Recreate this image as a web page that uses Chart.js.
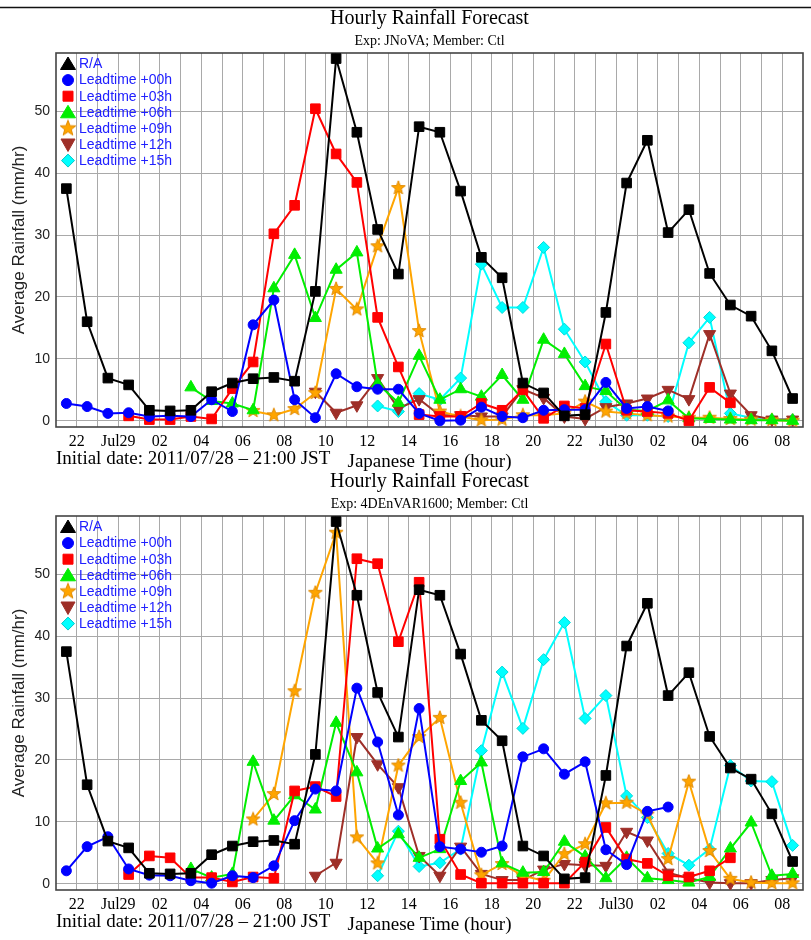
<!DOCTYPE html>
<html>
<head>
<meta charset="utf-8">
<script src="https://cdn.jsdelivr.net/npm/chart.js@4/dist/chart.umd.min.js"></script>
<style>
  html, body { margin: 0; padding: 0; background: #fff; }
  body { width: 811px; height: 940px; position: relative; overflow: hidden; }
  canvas { position: absolute; left: 0; }
  #panelA { top: 0; }
  #panelB { top: 463px; }
</style>
</head>
<body>
<canvas id="panelA" width="811" height="477"></canvas>
<canvas id="panelB" width="811" height="477"></canvas>
<script>
// Hourly accumulated rainfall, one value per hour starting 21-22 JST on 2011/07/28.
// Each value sits at the middle of its hour; null = no forecast for that hour.
const _ = null;

// Even-hour tick labels (at 22:00, 00:00, 02:00 ... 08:00 of Jul 30)
const tickLabels = ['22', 'Jul29', '02', '04', '06', '08', '10', '12', '14', '16', '18', '20',
                    '22', 'Jul30', '02', '04', '06', '08'];

// Radar/raingauge analysis (same in both experiments)
const analysis = [37.5, 16.0, 6.9, 5.8, 1.7, 1.6, 1.7, 4.7, 6.1, 6.8, 7.0, 6.4,
                  20.9, 58.5, 46.6, 30.9, 23.7, 47.5, 46.6, 37.1, 26.4, 23.1, 6.1, 4.5,
                  0.8, 1.0, 17.5, 38.4, 45.3, 30.4, 34.1, 23.8, 18.7, 16.9, 11.3, 3.6];

// JNoVA forecasts by lead time
const jnova00 = [2.8, 2.3, 1.2, 1.3, 0.7, 0.8, 0.7, 3.4, 1.5, 15.5, 19.5, 3.4,
                 0.5, 7.6, 5.5, 5.1, 5.1, 1.2, 0.0, 0.1, 2.2, 0.7, 0.5, 1.7,
                 1.8, 1.8, 6.2, 2.0, 2.3, 1.6, _, _, _, _, _, _];
const jnova03 = [_, _, _, 0.8, 0.2, 0.2, 0.7, 0.3, 5.2, 9.5, 30.2, 34.8,
                 50.4, 43.1, 38.5, 16.7, 8.7, 1.0, 0.7, 0.7, 2.8, 1.7, 5.0, 0.4,
                 2.4, 2.0, 12.4, 1.7, 1.5, 1.2, 0.0, 5.4, 2.9, _, _, _];
const jnova06 = [_, _, _, _, _, _, 5.4, 3.2, 2.8, 1.7, 21.4, 26.8,
                 16.6, 24.4, 27.2, 6.0, 2.9, 10.5, 3.4, 5.1, 3.9, 7.4, 3.4, 13.1,
                 10.8, 5.6, 4.8, 1.8, 1.6, 3.3, 0.4, 0.3, 0.2, 0.1, 0.1, 0.0];
const jnova09 = [_, _, _, _, _, _, _, _, _, 1.6, 0.9, 1.9,
                 4.5, 21.3, 18.0, 28.2, 37.6, 14.5, 1.5, 0.7, 0.1, 0.2, 0.9, 0.9,
                 1.2, 3.1, 1.5, 1.2, 0.9, 0.7, 0.5, 0.5, 0.3, 0.2, 0.1, 0.0];
const jnova12 = [_, _, _, _, _, _, _, _, _, _, _, _,
                 4.7, 1.3, 2.5, 6.9, 2.0, 3.5, 0.9, 0.9, 0.7, 0.7, 5.1, 3.7,
                 0.7, 0.3, 2.2, 2.8, 3.6, 5.0, 3.5, 14.0, 4.4, 0.9, 0.2, 0.2];
const jnova15 = [_, _, _, _, _, _, _, _, _, _, _, _,
                 _, _, _, 2.4, 1.5, 4.4, 3.4, 6.9, 25.3, 18.3, 18.3, 28.0,
                 14.8, 9.5, 3.1, 0.9, 0.9, 0.7, 12.6, 16.7, 1.2, 0.5, 0.2, 0.2];

// 4DEnVAR1600 forecasts by lead time
const envar00 = [2.1, 6.0, 7.6, 2.4, 1.4, 1.3, 0.5, 0.1, 1.3, 1.0, 2.9, 10.2,
                 15.3, 15.0, 31.6, 22.9, 11.1, 28.3, 6.0, 5.6, 5.1, 6.1, 20.5, 21.8,
                 17.7, 19.7, 5.5, 3.1, 11.7, 12.4, _, _, _, _, _, _];
const envar03 = [_, _, _, 1.5, 4.5, 4.2, 1.0, 1.0, 0.3, 1.1, 0.9, 15.0,
                 15.7, 14.1, 52.5, 51.7, 39.1, 48.7, 7.2, 1.5, 0.1, 0.1, 0.1, 0.1,
                 0.1, 3.5, 9.1, 4.0, 3.3, 1.3, 1.1, 2.1, 4.2, _, _, _];
const envar06 = [_, _, _, _, _, _, 2.4, 1.0, 1.6, 19.7, 10.2, 14.3,
                 12.0, 26.0, 18.0, 5.7, 8.0, 4.2, 5.6, 16.6, 19.6, 3.3, 1.8, 1.9,
                 6.8, 4.4, 0.9, 4.2, 0.9, 0.6, 0.2, 1.1, 5.7, 9.9, 1.3, 1.6];
const envar09 = [_, _, _, _, _, _, _, _, _, 10.4, 14.5, 31.1,
                 47.0, 56.7, 7.5, 3.3, 19.1, 23.7, 26.8, 13.1, 1.4, 3.2, 1.3, 0.5,
                 4.8, 6.4, 13.0, 13.1, 11.2, 4.0, 16.5, 5.3, 0.8, 0.2, 0.1, 0.1];
const envar12 = [_, _, _, _, _, _, _, _, _, _, _, _,
                 1.3, 3.4, 23.7, 19.3, 15.6, 4.5, 1.3, 6.0, 1.6, 0.6, 0.6, 2.3,
                 3.2, 3.0, 2.9, 8.4, 7.0, 1.8, 0.9, 0.2, 0.1, 0.1, 0.6, 0.9];
const envar15 = [_, _, _, _, _, _, _, _, _, _, _, _,
                 _, _, _, 1.3, 8.5, 2.8, 3.4, 5.6, 21.5, 34.2, 25.1, 36.2,
                 42.2, 26.7, 30.4, 14.2, 10.7, 4.9, 3.0, 5.6, 19.1, 16.6, 16.5, 6.2];

// ---------- drawing helpers ----------
const SERIF = '"Liberation Serif", "Times New Roman", serif';
const SANS = '"Liberation Sans", Arial, sans-serif';

function starImage(size, fill, stroke) {
  const c = document.createElement('canvas');
  c.width = c.height = size;
  const g = c.getContext('2d');
  const cx = size / 2, cy = size / 2, R = size / 2 - 0.8, r = R * 0.42;
  g.beginPath();
  for (let k = 0; k < 10; k++) {
    const a = -Math.PI / 2 + k * Math.PI / 5;
    const rr = k % 2 ? r : R;
    g.lineTo(cx + rr * Math.cos(a), cy + rr * Math.sin(a));
  }
  g.closePath();
  g.fillStyle = fill; g.fill();
  g.strokeStyle = stroke; g.lineWidth = 1; g.stroke();
  return c;
}
const starPlot = starImage(16, '#ffa500', '#e08a00');
const starLegend = starImage(18, '#ffa500', '#e08a00');

// hour index -> x value (hours after 21:00 JST), placed mid-hour
function toPoints(values) {
  const pts = [];
  values.forEach((v, i) => { if (v !== null) pts.push({ x: i + 0.5, y: v }); });
  return pts;
}

const styles = [
  { label: 'R/A',            color: '#000000', border: '#000000', style: 'rect',     radius: 6.8, rot: 0,   legend: 'triangle' },
  { label: 'Leadtime +00h',  color: '#0000ff', border: '#0000ff', style: 'circle',   radius: 5,   rot: 0,   legend: 'circle' },
  { label: 'Leadtime +03h',  color: '#ff0000', border: '#ff0000', style: 'rect',     radius: 6.8, rot: 0,   legend: 'rect' },
  { label: 'Leadtime +06h',  color: '#00ee00', border: '#00ee00', style: 'triangle', radius: 7,   rot: 0,   legend: 'triangle' },
  { label: 'Leadtime +09h',  color: '#ffa500', border: '#ffa500', style: starPlot,   radius: 7,   rot: 0,   legend: 'star' },
  { label: 'Leadtime +12h',  color: '#9e2f28', border: '#9e2f28', style: 'triangle', radius: 7,   rot: 180, legend: 'down' },
  { label: 'Leadtime +15h',  color: '#00ffff', border: '#00d8d8', style: 'rectRot',  radius: 6,   rot: 0,   legend: 'diamond' }
];

function buildDatasets(seriesList) {
  return seriesList.map((vals, k) => {
    const s = styles[k];
    return {
      label: s.label,
      data: toPoints(vals),
      borderColor: s.color,
      backgroundColor: s.color,
      borderWidth: 2,
      pointStyle: s.style,
      pointRadius: s.radius,
      pointRotation: s.rot,
      pointBackgroundColor: s.color,
      pointBorderColor: s.border,
      pointBorderWidth: 1,
      tension: 0,
      fill: false
    };
  });
}

function drawLegendMarker(ctx, kind, color, x, y) {
  ctx.save();
  ctx.fillStyle = color;
  ctx.strokeStyle = color;
  ctx.lineWidth = 1;
  ctx.beginPath();
  if (kind === 'triangle') {
    ctx.moveTo(x, y - 7); ctx.lineTo(x + 7.5, y + 5.5); ctx.lineTo(x - 7.5, y + 5.5);
  } else if (kind === 'down') {
    ctx.moveTo(x, y + 7); ctx.lineTo(x + 7, y - 5.5); ctx.lineTo(x - 7, y - 5.5);
  } else if (kind === 'circle') {
    ctx.arc(x, y, 5.5, 0, Math.PI * 2);
  } else if (kind === 'rect') {
    ctx.rect(x - 5, y - 5, 10, 10);
  } else if (kind === 'diamond') {
    ctx.strokeStyle = '#00c8c8';
    ctx.moveTo(x, y - 6.5); ctx.lineTo(x + 6.5, y); ctx.lineTo(x, y + 6.5); ctx.lineTo(x - 6.5, y);
  }
  if (kind === 'star') {
    ctx.drawImage(starLegend, x - 9, y - 9);
  } else {
    ctx.closePath();
    ctx.fill();
    ctx.stroke();
  }
  ctx.restore();
}

const panelDecor = {
  id: 'panelDecor',
  beforeDatasetsDraw(chart, args, opts) {
    const { ctx, chartArea: a } = chart;
    ctx.save();
    ctx.strokeStyle = '#444';
    ctx.lineWidth = 1.6;
    ctx.strokeRect(a.left, a.top, a.right - a.left, a.bottom - a.top);
    ctx.restore();
  },
  afterDraw(chart, args, opts) {
    const { ctx, chartArea: a } = chart;
    const cx = (a.left + a.right) / 2;
    ctx.save();
    if (opts.topRule) {
      ctx.strokeStyle = '#111';
      ctx.lineWidth = 1.5;
      ctx.beginPath(); ctx.moveTo(0, 7.5); ctx.lineTo(811, 7.5); ctx.stroke();
    }
    ctx.fillStyle = '#000';
    ctx.textAlign = 'center';
    ctx.textBaseline = 'alphabetic';
    ctx.font = '20px ' + SERIF;
    ctx.fillText('Hourly Rainfall Forecast', cx, 24);
    ctx.font = '14px ' + SERIF;
    ctx.fillText(opts.subtitle, cx, 45);
    ctx.font = '19px ' + SERIF;
    ctx.textAlign = 'left';
    ctx.fillText('Initial date: 2011/07/28 \u2013 21:00 JST', a.left, a.bottom + 37);
    ctx.textAlign = 'center';
    ctx.fillText('Japanese Time (hour)', cx, a.bottom + 40);

    // legend in the upper-left corner of the plot
    ctx.font = '14px ' + SANS;
    ctx.textAlign = 'left';
    ctx.textBaseline = 'middle';
    styles.forEach((s, i) => {
      const y = a.top + 11 + i * 16.1;
      drawLegendMarker(ctx, s.legend, s.color, a.left + 12, y);
      ctx.fillStyle = '#2020ff';
      ctx.fillText(s.label, a.left + 23, y + 0.5);
    });
    ctx.restore();
  }
};

function makeChart(id, seriesList, subtitle, topRule) {
  return new Chart(document.getElementById(id), {
    type: 'line',
    data: { datasets: buildDatasets(seriesList) },
    plugins: [panelDecor],
    options: {
      responsive: false,
      animation: false,
      devicePixelRatio: 1,
      layout: { padding: { top: 53, right: 5, left: 0, bottom: 0 } },
      plugins: {
        legend: { display: false },
        tooltip: { enabled: false },
        title: { display: false },
        panelDecor: { subtitle: subtitle, topRule: topRule }
      },
      scales: {
        x: {
          type: 'linear',
          min: 0,
          max: 36,
          afterBuildTicks: (scale) => {
            const t = [];
            for (let h = 1; h <= 35; h++) t.push({ value: h });
            scale.ticks = t;
          },
          afterFit: (scale) => { scale.height = 50; },
          grid: { color: '#a9a9a9', lineWidth: 1, drawTicks: false },
          border: { display: false },
          ticks: {
            autoSkip: false,
            maxRotation: 0,
            padding: 5,
            color: '#000',
            font: { family: SERIF, size: 16 },
            callback: (v) => (v % 2 === 1 ? tickLabels[(v - 1) / 2] : '')
          }
        },
        y: {
          type: 'linear',
          min: -1,
          max: 59.4,
          afterBuildTicks: (scale) => {
            scale.ticks = [0, 10, 20, 30, 40, 50].map(v => ({ value: v }));
          },
          afterFit: (scale) => { scale.width = 56; },
          grid: { color: '#a9a9a9', lineWidth: 1, drawTicks: false },
          border: { display: false },
          ticks: {
            padding: 6,
            color: '#222',
            font: { family: SANS, size: 14 }
          },
          title: {
            display: true,
            text: 'Average Rainfall (mm/hr)',
            color: '#222',
            font: { family: SANS, size: 17 },
            padding: { top: 9, bottom: 0 }
          }
        }
      }
    }
  });
}

makeChart('panelA', [analysis, jnova00, jnova03, jnova06, jnova09, jnova12, jnova15],
          'Exp: JNoVA; Member: Ctl', true);
makeChart('panelB', [analysis, envar00, envar03, envar06, envar09, envar12, envar15],
          'Exp: 4DEnVAR1600; Member: Ctl', false);
</script>
</body>
</html>
